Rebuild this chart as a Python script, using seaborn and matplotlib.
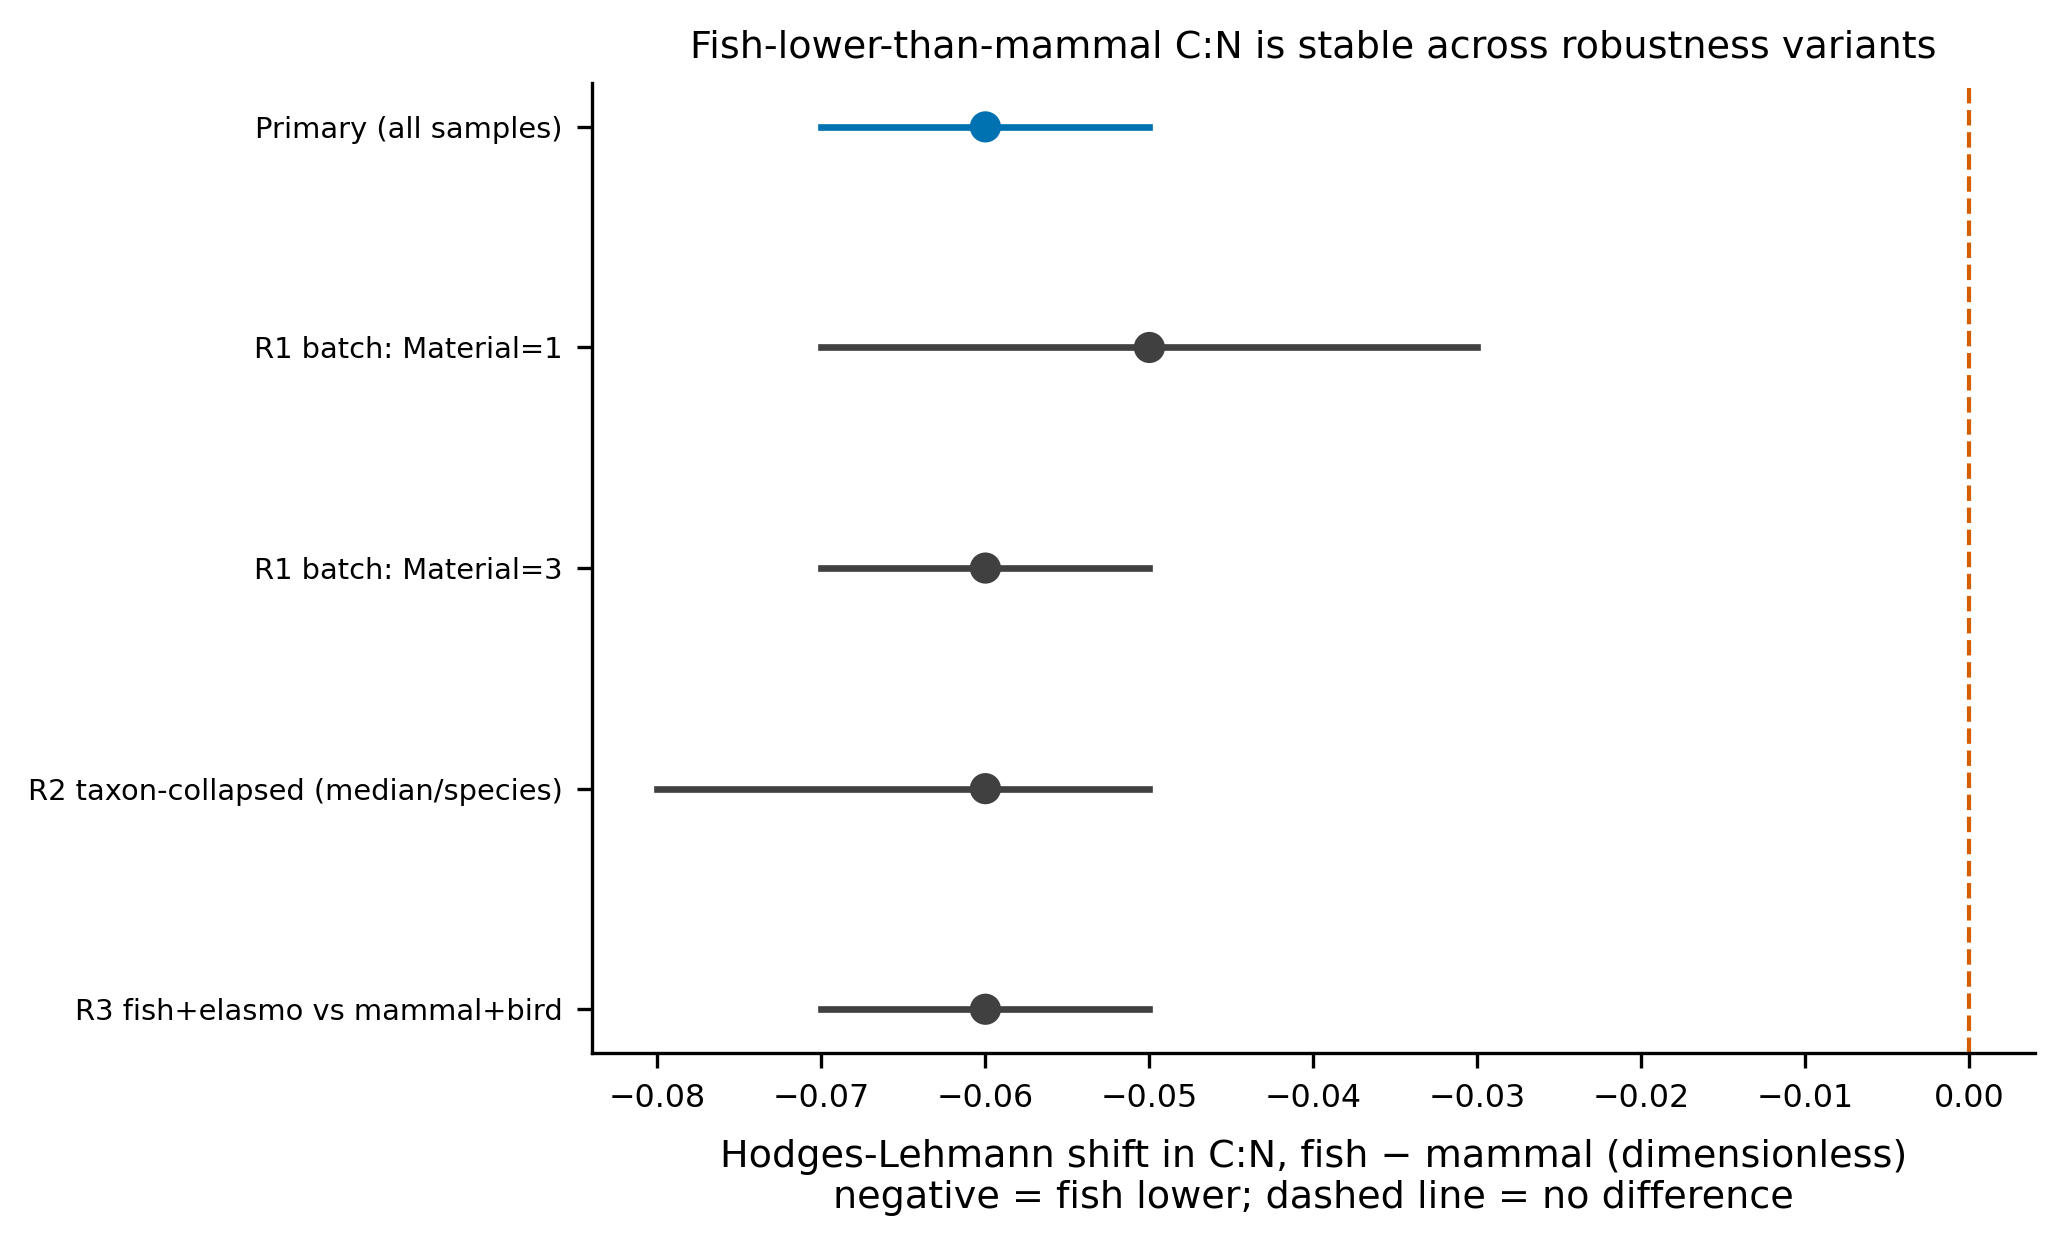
import numpy as np
import pandas as pd
import matplotlib
matplotlib.use("Agg")
import matplotlib.pyplot as plt
import seaborn as sns

# Robustness variants and Hodges-Lehmann estimates (fish - mammal)
variants = [
    "Primary (all samples)",
    "R1 batch: Material=1",
    "R1 batch: Material=3",
    "R2 taxon-collapsed (median/species)",
    "R3 fish+elasmo vs mammal+bird",
]
estimate = [-0.06, -0.05, -0.06, -0.06, -0.06]
ci_low = [-0.07, -0.07, -0.07, -0.08, -0.07]
ci_high = [-0.05, -0.03, -0.05, -0.05, -0.05]

plt.rcParams['font.family'] = ['DejaVu Sans']

df = pd.DataFrame({'variant': variants, 'est': estimate, 'lo': ci_low, 'hi': ci_high})
df['pos'] = np.arange(len(df))
df['kind'] = ['primary'] + ['variant'] * (len(df) - 1)
colors = {'primary': '#0072B2', 'variant': '#404040'}

fig, ax = plt.subplots(figsize=(6.873, 4.18), dpi=300)

# CI segments, then point estimates on top
for _, r in df.iterrows():
    ax.plot([r['lo'], r['hi']], [r['pos'], r['pos']], color=colors[r['kind']], lw=1.6, zorder=2)

sns.scatterplot(data=df, x='est', y='pos', hue='kind', palette=colors, s=56,
                edgecolor='none', legend=False, zorder=3, ax=ax)

ax.axvline(0, color='#D55E00', ls='--', lw=1.0, zorder=1)

ax.set_yticks(df['pos'])
ax.set_yticklabels(df['variant'], fontsize=6.95)
ax.invert_yaxis()
ax.tick_params(axis='x', labelsize=7.6)
ax.set_ylabel('')
ax.set_xlabel('Hodges-Lehmann shift in C:N, fish \u2212 mammal (dimensionless)\n'
              'negative = fish lower; dashed line = no difference', fontsize=9.15, labelpad=6)
ax.set_title('Fish-lower-than-mammal C:N is stable across robustness variants', fontsize=9.15)
sns.despine(ax=ax)

fig.subplots_adjust(left=0.287, right=0.987, top=0.934, bottom=0.16)
fig.savefig('out.png', dpi=300)
